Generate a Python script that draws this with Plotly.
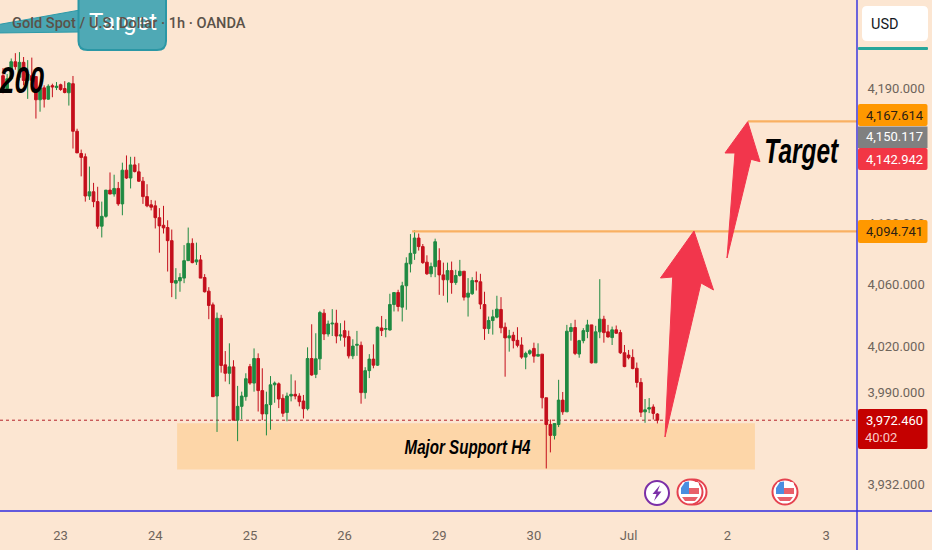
import math
import plotly.graph_objects as go

opens = [4198.3,4189.6,4196.2,4207.7,4197.2,4207.3,4195.1,4198.3,4197.7,4182.1,
4190.1,4182.5,4191.6,4190.3,4192.2,4189.6,4186.8,4192.9,4161.0,4146.2,
4144.0,4118.0,4120.8,4114.3,4098.1,4104.6,4121.9,4119.3,4123.0,4112.8,
4135.1,4129.9,4138.6,4134.0,4127.8,4117.6,4112.2,4111.5,4103.7,4098.7,
4097.2,4088.6,4060.8,4062.3,4064.1,4075.5,4086.8,4074.7,4076.0,4064.5,
4055.6,4046.7,3987.9,4038.0,4007.9,4002.5,4006.6,3972.5,3981.3,3987.5,
4006.8,3996.2,4012.0,3991.4,3976.5,3982.4,3995.1,3995.7,3986.4,3977.4,
3987.9,3989.0,3987.9,3984.7,3979.8,4012.0,4001.8,4011.8,4041.3,4027.8,
4034.3,4034.8,4026.5,4030.0,4026.1,4013.7,4020.5,4020.5,3990.1,4004.2,
4011.6,4007.7,4031.7,4030.9,4030.4,4046.9,4054.7,4045.2,4059.1,4073.4,
4080.3,4090.3,4084.7,4074.5,4066.9,4071.6,4075.5,4066.2,4063.0,4069.0,
4061.2,4065.8,4068.6,4051.7,4053.9,4062.5,4061.7,4046.9,4031.3,4036.5,
4038.7,4043.7,4032.2,4025.3,4027.0,4023.7,4020.7,4012.9,4015.3,4018.5,
4013.5,4014.8,3986.8,3969.7,3962.8,3969.7,3985.3,3977.8,4029.4,4032.0,
4014.9,4023.5,4029.4,4033.7,4009.2,4029.2,4037.4,4029.2,4025.5,4030.5,
4028.7,4015.7,4014.2,4012.7,4005.7,3996.6,3977.8,3979.6,3980.9,3976.4]

highs = [4203.4,4199.4,4209.9,4213.5,4214.2,4210.9,4208.8,4210.5,4197.7,4191.8,
4191.8,4192.5,4192.9,4194.0,4192.9,4194.6,4194.0,4198.1,4162.7,4148.8,
4146.2,4137.5,4126.7,4124.1,4114.3,4121.9,4133.6,4132.1,4127.3,4140.1,
4144.9,4144.0,4144.0,4139.7,4130.6,4125.8,4115.4,4115.0,4110.0,4111.5,
4102.0,4095.9,4070.6,4067.3,4085.7,4097.2,4090.1,4087.3,4079.2,4066.7,
4058.2,4048.2,4041.7,4040.2,4016.8,4021.8,4010.9,3994.4,3990.7,4002.5,
4008.5,4018.5,4015.3,4005.7,3990.7,4000.7,3997.2,3996.6,3989.0,3990.1,
4001.8,3997.9,3989.7,3988.6,4019.2,4034.1,4028.3,4042.8,4043.9,4036.5,
4043.9,4043.5,4034.8,4036.5,4030.0,4024.4,4029.8,4022.9,4006.4,4014.8,
4021.1,4032.6,4039.5,4037.4,4053.9,4054.7,4056.5,4061.7,4077.7,4092.9,
4095.5,4093.3,4086.4,4079.0,4074.2,4089.9,4083.6,4074.2,4074.2,4074.9,
4069.5,4076.0,4068.6,4064.1,4064.7,4068.4,4066.9,4055.2,4039.1,4043.5,
4052.6,4051.7,4035.2,4030.5,4029.2,4032.2,4025.7,4016.4,4017.9,4022.2,
4021.8,4014.8,3986.8,3972.9,3970.3,3998.3,3990.5,4033.7,4034.8,4037.0,
4024.0,4031.6,4037.0,4033.7,4033.1,4063.4,4039.6,4033.7,4032.6,4033.3,
4030.5,4020.7,4017.5,4017.9,4009.4,3999.4,3986.0,3986.6,3982.6,3977.0]

lows = [4186.4,4188.6,4195.1,4202.3,4195.1,4191.8,4182.7,4189.6,4169.5,4174.1,
4176.9,4182.1,4183.8,4188.6,4188.1,4186.4,4178.2,4149.5,4146.6,4131.0,
4114.3,4115.4,4110.6,4096.4,4090.7,4103.7,4119.3,4117.6,4111.5,4105.3,
4129.3,4123.0,4133.6,4127.3,4112.8,4110.6,4108.5,4096.6,4080.7,4093.3,
4068.4,4051.7,4050.4,4055.2,4060.8,4075.5,4073.8,4072.7,4064.1,4054.7,
4037.4,3987.5,3965.0,4002.9,3997.2,3995.5,3972.5,3959.1,3973.0,3984.9,
3995.1,3990.7,3978.0,3972.5,3962.8,3966.4,3983.6,3980.2,3974.6,3971.8,
3984.5,3985.8,3981.3,3973.6,3978.7,4000.9,3999.4,4004.6,4023.9,4026.1,
4026.5,4021.8,4023.5,4019.6,4012.0,4011.6,4013.7,3983.0,3986.2,3999.4,
4005.7,4007.2,4026.5,4025.7,4030.0,4042.4,4042.4,4035.9,4043.5,4067.8,
4076.0,4082.1,4073.4,4066.2,4064.7,4064.7,4053.2,4052.6,4048.2,4053.9,
4059.7,4065.1,4049.5,4039.1,4053.2,4056.0,4043.9,4024.0,4027.9,4027.4,
4038.0,4028.3,4000.3,4016.4,4018.5,4019.2,4011.8,4005.1,4014.2,4009.3,
4013.5,3980.0,3941.8,3952.0,3960.2,3968.1,3975.9,3977.8,4023.5,4014.2,
4012.5,4021.8,4025.1,4008.8,4009.2,4025.1,4022.2,4025.5,4020.7,4027.9,
4014.9,4006.4,4011.4,4005.1,3993.4,3974.5,3970.8,3977.0,3972.9,3970.4]

closes = [4189.6,4196.2,4207.7,4204.4,4207.3,4195.1,4199.4,4195.1,4182.1,4190.1,
4182.5,4191.2,4190.7,4191.2,4189.0,4187.0,4193.3,4161.0,4146.6,4143.6,
4118.0,4120.8,4114.3,4098.1,4104.6,4121.9,4119.3,4123.0,4112.8,4135.1,
4129.9,4138.6,4134.2,4127.8,4117.6,4111.5,4110.6,4103.7,4098.3,4097.0,
4088.6,4061.2,4062.5,4064.5,4075.5,4086.8,4074.2,4076.0,4064.1,4055.2,
4046.3,3987.5,4038.0,4007.5,4002.5,4006.6,3972.5,3981.3,3987.9,3999.0,
3996.2,4012.0,3991.4,3976.5,3982.4,3995.1,3996.2,3986.0,3976.9,3987.9,
3989.0,3987.9,3984.3,3979.8,4012.0,4001.4,4011.8,4041.7,4027.8,4034.3,
4034.8,4026.5,4027.2,4025.7,4013.7,4020.0,4021.1,3990.1,4004.2,4011.6,
4007.7,4032.2,4030.0,4031.3,4046.9,4054.7,4045.6,4059.1,4073.8,4080.3,
4090.3,4084.7,4074.2,4066.9,4071.6,4087.9,4066.2,4063.0,4069.0,4061.2,
4065.8,4068.6,4051.7,4054.3,4062.5,4061.7,4047.2,4031.3,4036.5,4038.9,
4043.9,4031.8,4025.3,4026.6,4023.5,4020.5,4012.9,4015.3,4017.0,4013.5,
4014.6,3986.8,3969.7,3962.8,3970.3,3985.3,3977.8,4029.6,4032.0,4015.3,
4023.5,4030.0,4033.7,4009.2,4029.2,4037.4,4028.7,4025.9,4030.5,4028.3,
4015.7,4006.8,4012.5,4005.5,3996.6,3977.6,3979.1,3980.4,3976.8,3972.46]

bar_index = list(range(len(closes)))

x_tick_bars = [14, 37, 60, 83, 106, 129, 152, 176, 200]
x_tick_labels = ["23", "24", "25", "26", "29", "30", "Jul", "2", "3"]
y_tick_values = [4190, 4100, 4060, 4020, 3990, 3932]
y_tick_labels = ["4,190.000", "4,100.000", "4,060.000", "4,020.000", "3,990.000", "3,932.000"]

target_high = 4167.614
target_mid = 4094.741
last_price = 3972.46
zone_low, zone_high = 3941.2, 3970.6
zone_start_bar, zone_end_bar = 42.3, 182.7
mid_start_bar, high_start_bar = 99.4, 181.0
x_range = [-0.73, 207.5]
y_range_prices = [3915.0, 4249.6]

W, H = 932, 550
PW, PH = 857, 511
BG = "#fce6d2"
GREEN, RED = "#1f8a42", "#c40f1c"
TXT = "#6e645b"
ORANGE_LINE = "#f9b062"
ARROW = "#f2364c"
BLUE = "#2f2be0"


def px(x):
    return x / PW


def py(y):
    return 1 - y / PH


def poly(points):
    return "M" + " L".join(f"{px(a):.5f},{py(b):.5f}" for a, b in points) + " Z"


def rrect(x0, y0, x1, y1, r):
    p = lambda a, b: f"{px(a):.5f},{py(b):.5f}"
    return (f"M{p(x0+r,y0)} L{p(x1-r,y0)} Q{p(x1,y0)} {p(x1,y0+r)} L{p(x1,y1-r)} Q{p(x1,y1)} {p(x1-r,y1)} "
            f"L{p(x0+r,y1)} Q{p(x0,y1)} {p(x0,y1-r)} L{p(x0,y0+r)} Q{p(x0,y0)} {p(x0+r,y0)} Z")


shapes = []


def add_path(path, fill, line=None, lw=0):
    shapes.append(dict(type="path", path=path, xref="paper", yref="paper", fillcolor=fill,
                       line=dict(color=line or fill, width=lw), layer="above"))


def add_circle(cx, cy, r, fill, line, lw):
    shapes.append(dict(type="circle", xref="paper", yref="paper", x0=px(cx - r), x1=px(cx + r),
                       y0=py(cy + r), y1=py(cy - r), fillcolor=fill,
                       line=dict(color=line, width=lw), layer="above"))


# support zone and dotted last-price line, below the candles
shapes.append(dict(type="rect", xref="x", yref="y", x0=zone_start_bar, x1=zone_end_bar, y0=zone_low, y1=zone_high,
                   fillcolor="#fdd6a8", line=dict(width=0), layer="below"))
shapes.append(dict(type="line", xref="paper", yref="y", x0=0, x1=1, y0=last_price, y1=last_price,
                   line=dict(color="#b5212a", width=1, dash="dot"), layer="below"))
# level lines
shapes.append(dict(type="line", xref="x", yref="y", x0=mid_start_bar, x1=x_range[1], y0=target_mid, y1=target_mid,
                   line=dict(color=ORANGE_LINE, width=2.2), layer="above"))
shapes.append(dict(type="line", xref="x", yref="y", x0=high_start_bar, x1=x_range[1], y0=target_high, y1=target_high,
                   line=dict(color=ORANGE_LINE, width=2.2), layer="above"))

# red arrows
add_path(poly([(665, 437), (672.7, 277), (660.5, 278), (694, 231), (713.5, 290), (701, 283)]), ARROW, ARROW, 1)
add_path(poly([(727, 258), (735, 153), (725, 153), (747.7, 121.7), (760, 161.7), (751, 159.3)]), ARROW, ARROW, 1)

# teal callout at the top
add_path(poly([(-4, 25), (80, 10), (80, 32), (-4, 33)]), "#4aa7b4", "#2f9aa8", 1)
add_path(rrect(78.5, -12, 166, 50, 9), "#4fa9b5", "#2b97a5", 2)

# price badges
add_path(rrect(858, 104, 927.5, 126, 2), "#ff9800")
add_path(rrect(858, 126.5, 927.5, 148, 0), "#808080")
add_path(rrect(858, 148, 927.5, 170, 2), "#f23645")
add_path(rrect(858, 220, 927.5, 243, 2), "#ff9800")
add_path(rrect(858, 409, 927.5, 449, 2), "#c40000")
# currency button
add_path(rrect(862, 6, 928, 41, 5), "#ffffff")
add_path(rrect(858, 47, 928, 50, 1), "#26a69a")

# event icons
add_circle(657, 493, 12, "#ffffff", "#7b2fa8", 2)
add_path(poly([(660, 485), (652.5, 494), (656.5, 494), (654, 501), (661.5, 491.5), (657.5, 491.5)]), "#7b2fa8")
for cx, double in [(690, True), (785, False)]:
    if double:
        add_circle(cx + 4, 492, 12.5, "#ffffff", "#e5424f", 2)
    add_circle(cx, 492, 12.5, "#ffffff", "#e5424f", 2)
    add_path(rrect(cx - 8, 482, cx + 9, 487, 2), "#ffffff")
    add_path(poly([(cx - 1, 488), (cx + 9, 488), (cx + 9, 494), (cx - 1, 494)]), "#e8606a")
    add_path(poly([(cx - 8, 497), (cx + 8, 497), (cx + 5, 501), (cx - 5, 501)]), "#e8606a")
    add_path(poly([(cx - 9, 488), (cx - 5, 482), (cx - 1, 481.5), (cx - 1, 494), (cx - 9, 494)]), "#4a8ee0")

# frame lines
shapes.append(dict(type="line", xref="paper", yref="paper", x0=0, x1=W / PW, y0=0, y1=0,
                   line=dict(color=BLUE, width=1.4), layer="above"))
shapes.append(dict(type="line", xref="paper", yref="paper", x0=1, x1=1, y0=py(H), y1=py(0),
                   line=dict(color=BLUE, width=1.4), layer="above"))


def note(text, x, y, size, color, family="Roboto", anchor="center", **font_kw):
    return dict(text=text, xref="paper", yref="paper", x=px(x), y=py(y), xanchor=anchor, yanchor="middle",
                showarrow=False, font=dict(family=family, size=size, color=color, **font_kw))


HAND = "Liberation Sans"
annotations = [
    note("Target", 122.5, 22, 24, "#ffffff"),
    note("Gold Spot / U.S. Dollar · 1h · OANDA", 10, 23, 14.6, "#5a5249", anchor="left", weight=500),
    note("<b><i>200</i></b>", 21, 81, 37, "#000000", HAND),
    note("<b><i>Target</i></b>", 802, 151, 34.5, "#000000", HAND),
    note("<b><i>Major Support H4</i></b>", 467, 446, 21, "#000000", HAND),
    note("USD", 885, 24, 14.5, "#131722"),
    note("4,167.614", 894.5, 115, 13, "#2a2014"),
    note("4,150.117", 894.5, 137, 13, "#ffffff"),
    note("4,142.942", 894.5, 159, 13, "#ffffff"),
    note("4,094.741", 894.5, 231, 13, "#2a2014"),
    note("3,972.460", 894.5, 420, 13, "#ffffff"),
    note("40:02", 881, 437, 13, "#f8c9c9"),
]

fig = go.Figure(go.Candlestick(
    x=bar_index, open=opens, high=highs, low=lows, close=closes,
    increasing=dict(line=dict(color=GREEN, width=1), fillcolor=GREEN),
    decreasing=dict(line=dict(color=RED, width=1), fillcolor=RED),
    showlegend=False, hoverinfo="skip",
))
fig.update_layout(
    width=W, height=H, paper_bgcolor=BG, plot_bgcolor=BG, showlegend=False,
    margin=dict(l=0, r=W - PW, t=0, b=H - PH, pad=0, autoexpand=False),
    boxgap=0.2, boxgroupgap=0.2,
    shapes=shapes, annotations=annotations,
    font=dict(family="Roboto", size=13, color=TXT),
    xaxis=dict(range=x_range, rangeslider=dict(visible=False), showgrid=False, zeroline=False, showline=False,
               tickmode="array", tickvals=x_tick_bars, ticktext=x_tick_labels,
               ticks="outside", ticklen=12, tickcolor="rgba(0,0,0,0)", tickfont=dict(size=13, color=TXT)),
    yaxis=dict(type="log", side="right", range=[math.log10(v) for v in y_range_prices], showgrid=False,
               zeroline=False, showline=False, tickmode="array", tickvals=y_tick_values, ticktext=y_tick_labels,
               ticks="outside", ticklen=7, tickcolor="rgba(0,0,0,0)", tickfont=dict(size=13, color=TXT)),
)

# the hand-written labels in the reference are narrow: squeeze them horizontally
post = """
document.body.style.margin='0';document.body.style.overflow='hidden';
function squeeze(){
  var t=document.querySelectorAll('.annotation-text');
  [[2,0.72],[3,0.71],[4,0.72]].forEach(function(p){
    var e=t[p[0]]; if(!e) return;
    var b=e.getBBox(), c=b.x+b.width/2;
    e.setAttribute('transform','translate('+c+' 0) scale('+p[1]+' 1) translate('+(-c)+' 0)');
  });
}
setTimeout(squeeze,0);
"""
fig.write_html("out.html", config=dict(displayModeBar=False), post_script=post)
